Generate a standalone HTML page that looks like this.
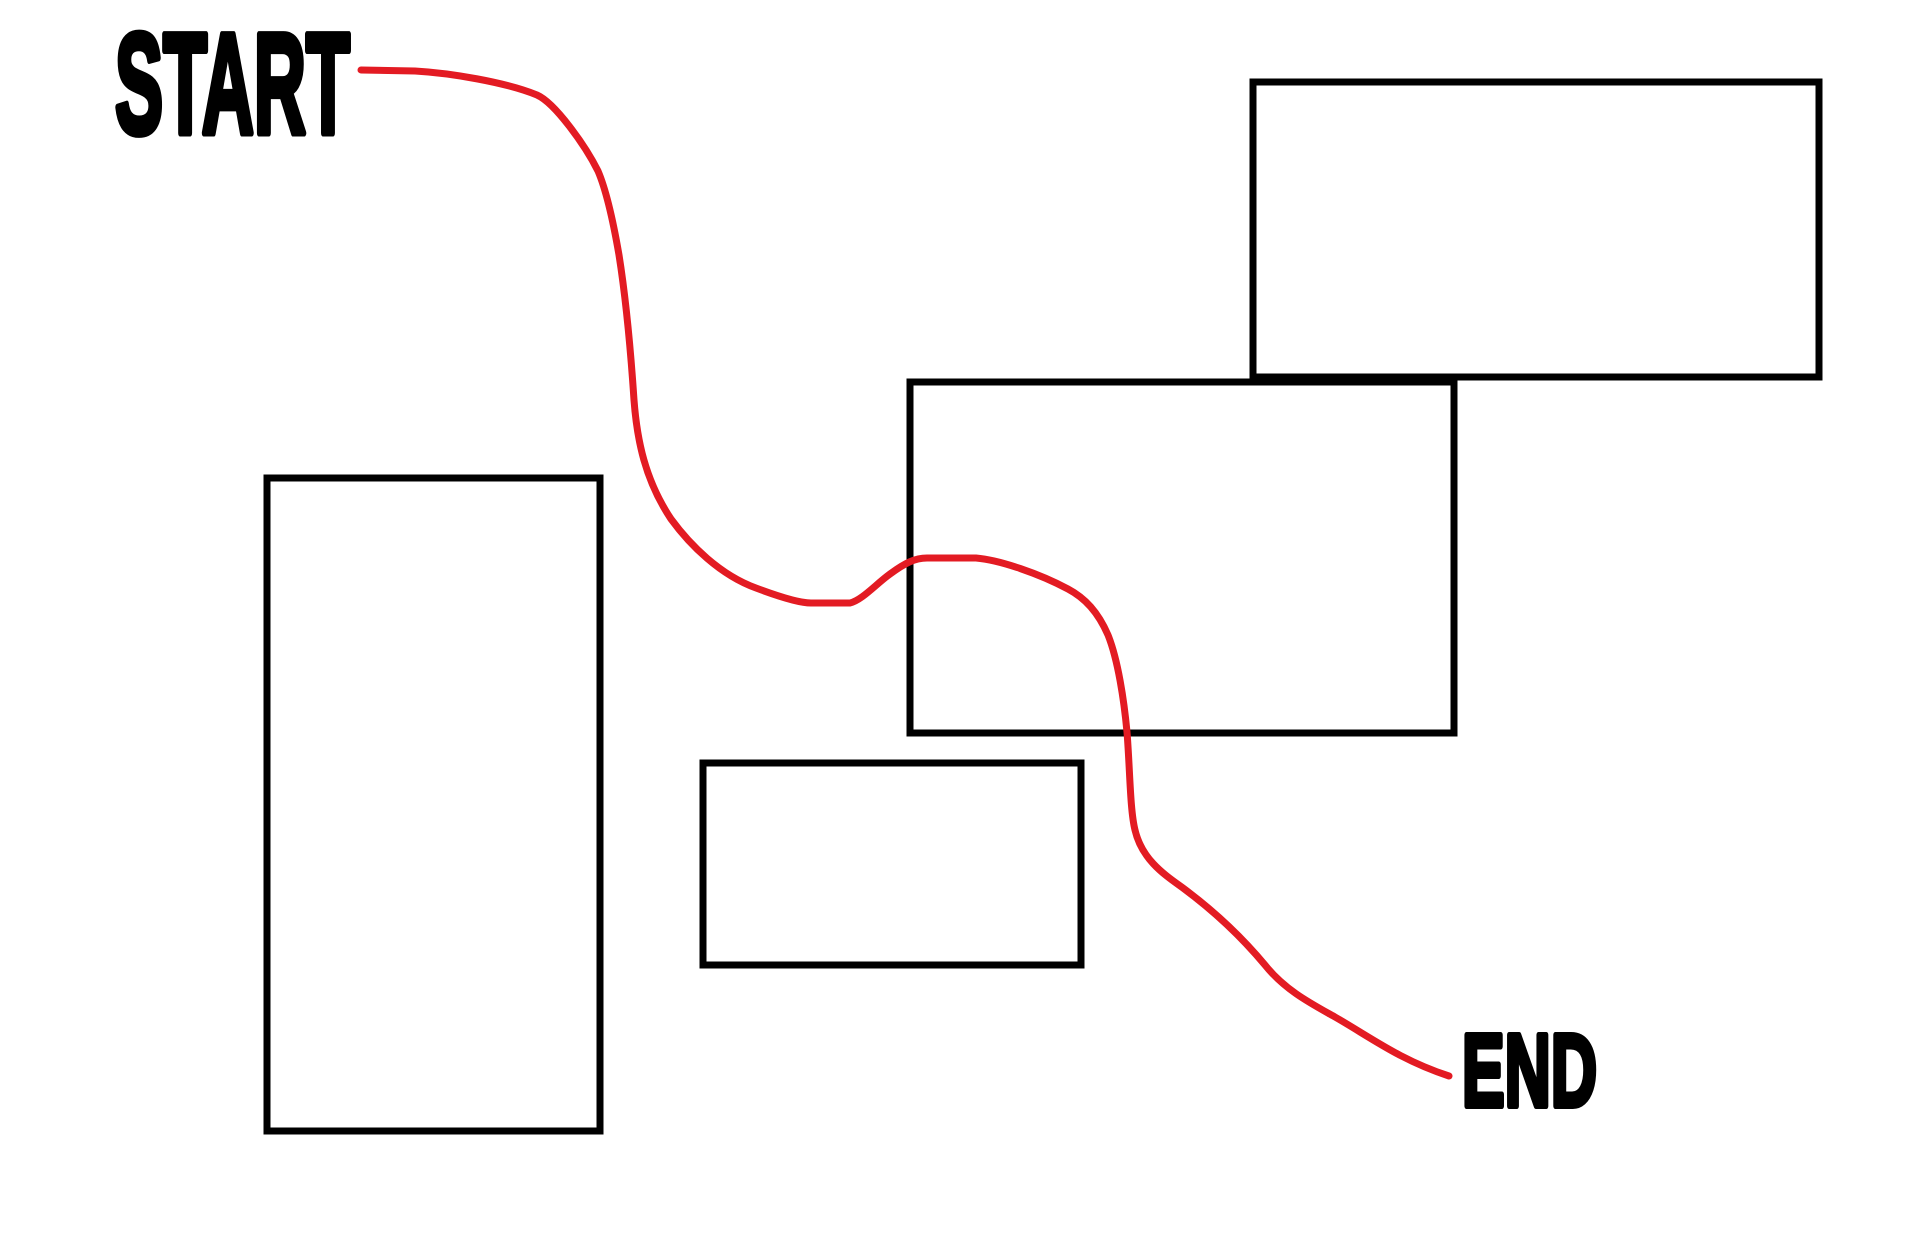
<!DOCTYPE html>
<html><head><meta charset="utf-8"><style>html,body{margin:0;padding:0;background:#fff;}svg{display:block}</style></head>
<body>
<svg width="1912" height="1258" viewBox="0 0 1912 1258" xmlns="http://www.w3.org/2000/svg">
<rect x="0" y="0" width="1912" height="1258" fill="#fff"/>
<g fill="none" stroke="#000" stroke-width="7">
<rect x="1253" y="82" width="566" height="295"/>
<rect x="910" y="382" width="544" height="351"/>
<rect x="267" y="478" width="333" height="653"/>
<rect x="703" y="763" width="378" height="202"/>
</g>
<path fill="none" stroke="#e31b23" stroke-width="7" stroke-linecap="round" stroke-linejoin="round"
d="M361,70 L415,71 C450,73 505,82 537,95 C555,103 585,145 598,171 C607,192 614,226 619,255 C625,293 630,340 634,400 C637,440 645,480 671,519 C690,545 720,575 756,588 C780,597 800,603 811,603 L850,603 C862,600 875,585 890,574 C905,563 915,558 927,558 L976,558 C1000,560 1040,574 1068,589 C1085,598 1098,612 1108,635 C1118,660 1124,700 1127,732 C1130,770 1130,810 1135,830 C1142,860 1165,875 1183,888 C1210,908 1240,935 1265,965 C1285,990 1310,1003 1335,1017 C1370,1037 1400,1060 1449,1076"/>
<text x="115" y="133" font-family="Liberation Sans Narrow, Liberation Sans, sans-serif" font-weight="bold" font-size="143" textLength="235" lengthAdjust="spacingAndGlyphs" fill="#000" stroke="#000" stroke-width="7" stroke-linejoin="round">START</text>
<text x="1462" y="1106" font-family="Liberation Sans Narrow, Liberation Sans, sans-serif" font-weight="bold" font-size="103" textLength="135" lengthAdjust="spacingAndGlyphs" fill="#000" stroke="#000" stroke-width="6" stroke-linejoin="round">END</text>
</svg>
</body></html>
